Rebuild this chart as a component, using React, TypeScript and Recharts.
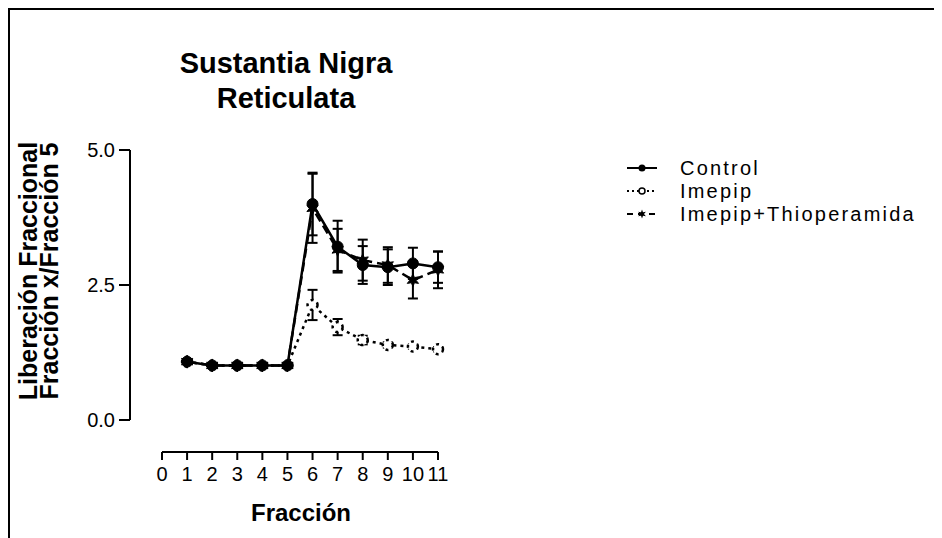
import React from 'react';
import {
  LineChart,
  Line,
  XAxis,
  YAxis,
  ErrorBar,
  Legend,
  ReferenceLine,
  Customized
} from 'recharts';

// Fracciones y liberacion fraccional (x / fraccion 5), media +- EEM
const FRACTIONS = [1, 2, 3, 4, 5, 6, 7, 8, 9, 10, 11];
const CONTROL = [1.08, 1.01, 1.01, 1.01, 1.01, 4.0, 3.21, 2.87, 2.83, 2.9, 2.83];
const CONTROL_SEM = [0.02, 0.02, 0.02, 0.02, 0.02, 0.58, 0.48, 0.35, 0.33, 0.29, 0.29];
const IMEPIP = [1.08, 1.01, 1.01, 1.01, 1.01, 2.13, 1.72, 1.48, 1.39, 1.36, 1.31];
const IMEPIP_SEM = [0.02, 0.02, 0.02, 0.02, 0.02, 0.28, 0.15, 0.08, 0.05, 0.04, 0.04];
const THIO = [1.08, 1.01, 1.01, 1.01, 1.01, 3.92, 3.15, 2.96, 2.87, 2.59, 2.78];
const THIO_SEM = [0.02, 0.02, 0.02, 0.02, 0.02, 0.64, 0.39, 0.38, 0.33, 0.34, 0.34];

const X_TICKS = [0, 1, 2, 3, 4, 5, 6, 7, 8, 9, 10, 11];
const Y_TICKS = [0, 2.5, 5];

// GraphPad style offset axes: the plot area reaches past the drawn axis lines
const X_MIN = -1.275;
const Y_MIN = -0.593;

const FONT = '"Liberation Sans", Arial, Helvetica, sans-serif';

const data = FRACTIONS.map((f, i) => ({
  fraccion: f,
  control: CONTROL[i],
  controlErr: CONTROL_SEM[i],
  imepip: IMEPIP[i],
  imepipErr: IMEPIP_SEM[i],
  thio: THIO[i],
  thioErr: THIO_SEM[i]
}));

const starPoints = (cx: number, cy: number, outer: number, inner: number) => {
  const pts: string[] = [];
  for (let k = 0; k < 12; k++) {
    const r = k % 2 === 0 ? outer : inner;
    const a = (Math.PI / 6) * k - Math.PI / 2;
    pts.push(`${cx + r * Math.cos(a)},${cy + r * Math.sin(a)}`);
  }
  return pts.join(' ');
};

const StarDot = (props: any) => {
  const { cx, cy, index } = props;
  if (cx == null || cy == null) return <g key={`s-${index}`} />;
  return <polygon key={`s-${index}`} points={starPoints(cx, cy, 6.5, 3)} fill="#000" stroke="#000" strokeWidth={1} />;
};

const LEGEND_ITEMS = [
  { key: 'control', name: 'Control', dash: undefined as string | undefined, marker: 'filled' },
  { key: 'imepip', name: 'Imepip', dash: '2 3', marker: 'open' },
  { key: 'thio', name: 'Imepip+Thioperamida', dash: '6 5', marker: 'star' }
];

const LegendContent = () => (
  <div style={{ fontFamily: FONT, fontSize: 20, letterSpacing: 2.2, color: '#000' }}>
    {LEGEND_ITEMS.map((it) => (
      <div key={it.key} style={{ display: 'flex', alignItems: 'center', height: 23 }}>
        <svg width={30} height={14} style={{ overflow: 'visible' }}>
          <line x1={0} y1={7} x2={30} y2={7} stroke="#000" strokeWidth={2} strokeDasharray={it.dash} />
          {it.marker === 'filled' && <circle cx={15} cy={7} r={3.5} fill="#000" />}
          {it.marker === 'open' && <circle cx={15} cy={7} r={3} fill="#fff" stroke="#000" strokeWidth={1.5} />}
          {it.marker === 'star' && <polygon points={starPoints(15, 7, 4.5, 2)} fill="#000" />}
        </svg>
        <span style={{ marginLeft: 23, lineHeight: '20px' }}>{it.name}</span>
      </div>
    ))}
  </div>
);

const Titles = () => (
  <g fontFamily={FONT} fill="#000">
    <text x={276} y={63} textAnchor="middle" fontSize={29} fontWeight="bold">Sustantia Nigra</text>
    <text x={276} y={98} textAnchor="middle" fontSize={29} fontWeight="bold">Reticulata</text>
    <text x={27} y={261} textAnchor="middle" fontSize={25} fontWeight="bold" transform="rotate(-90, 27, 261)">
      Liberación Fraccional
    </text>
    <text x={48} y={261} textAnchor="middle" fontSize={25} fontWeight="bold" transform="rotate(-90, 48, 261)">
      Fracción x/Fracción 5
    </text>
    <text x={291} y={511} textAnchor="middle" fontSize={24} fontWeight="bold">Fracción</text>
  </g>
);

export default function App() {
  return (
    <div style={{ width: 932, height: 528, borderTop: '2px solid #000', borderLeft: '2px solid #000', background: '#fff' }}>
      <LineChart width={932} height={528} data={data} margin={{ top: 140, right: 504, bottom: 56, left: 0 }}>
        <XAxis
          dataKey="fraccion"
          type="number"
          domain={[X_MIN, 11]}
          ticks={X_TICKS}
          interval={0}
          axisLine={false}
          tickLine={{ stroke: '#000', strokeWidth: 2 }}
          tickSize={8}
          tickMargin={7}
          height={30}
          tick={{ fill: '#000', fontSize: 20, fontFamily: FONT }}
        />
        <YAxis
          type="number"
          domain={[Y_MIN, 5]}
          ticks={Y_TICKS}
          interval={0}
          width={120}
          axisLine={false}
          tickLine={{ stroke: '#000', strokeWidth: 2 }}
          tickSize={11}
          tickMargin={4}
          tickFormatter={(v: number) => v.toFixed(1)}
          tick={{ fill: '#000', fontSize: 20, fontFamily: FONT }}
        />
        <ReferenceLine segment={[{ x: X_MIN, y: 0 }, { x: X_MIN, y: 5 }]} stroke="#000" strokeWidth={2} ifOverflow="visible" />
        <ReferenceLine segment={[{ x: 0, y: Y_MIN }, { x: 11, y: Y_MIN }]} stroke="#000" strokeWidth={2} ifOverflow="visible" />

        <Line
          dataKey="imepip"
          name="Imepip"
          stroke="#000"
          strokeWidth={2.5}
          strokeDasharray="3 4"
          dot={{ r: 5, fill: '#fff', stroke: '#000', strokeWidth: 2.5 }}
          isAnimationActive={false}
        >
          <ErrorBar dataKey="imepipErr" width={5} stroke="#000" strokeWidth={2} />
        </Line>
        <Line
          dataKey="thio"
          name="Imepip+Thioperamida"
          stroke="#000"
          strokeWidth={2.5}
          strokeDasharray="9 5"
          dot={StarDot}
          isAnimationActive={false}
        >
          <ErrorBar dataKey="thioErr" width={5} stroke="#000" strokeWidth={2} />
        </Line>
        <Line
          dataKey="control"
          name="Control"
          stroke="#000"
          strokeWidth={2.5}
          dot={{ r: 5.5, fill: '#000', stroke: '#000', strokeWidth: 1 }}
          isAnimationActive={false}
        >
          <ErrorBar dataKey="controlErr" width={5} stroke="#000" strokeWidth={2} />
        </Line>

        <Legend
          layout="vertical"
          align="center"
          verticalAlign="middle"
          wrapperStyle={{ left: 617, top: 146 }}
          content={LegendContent}
        />
        <Customized component={Titles} />
      </LineChart>
    </div>
  );
}
